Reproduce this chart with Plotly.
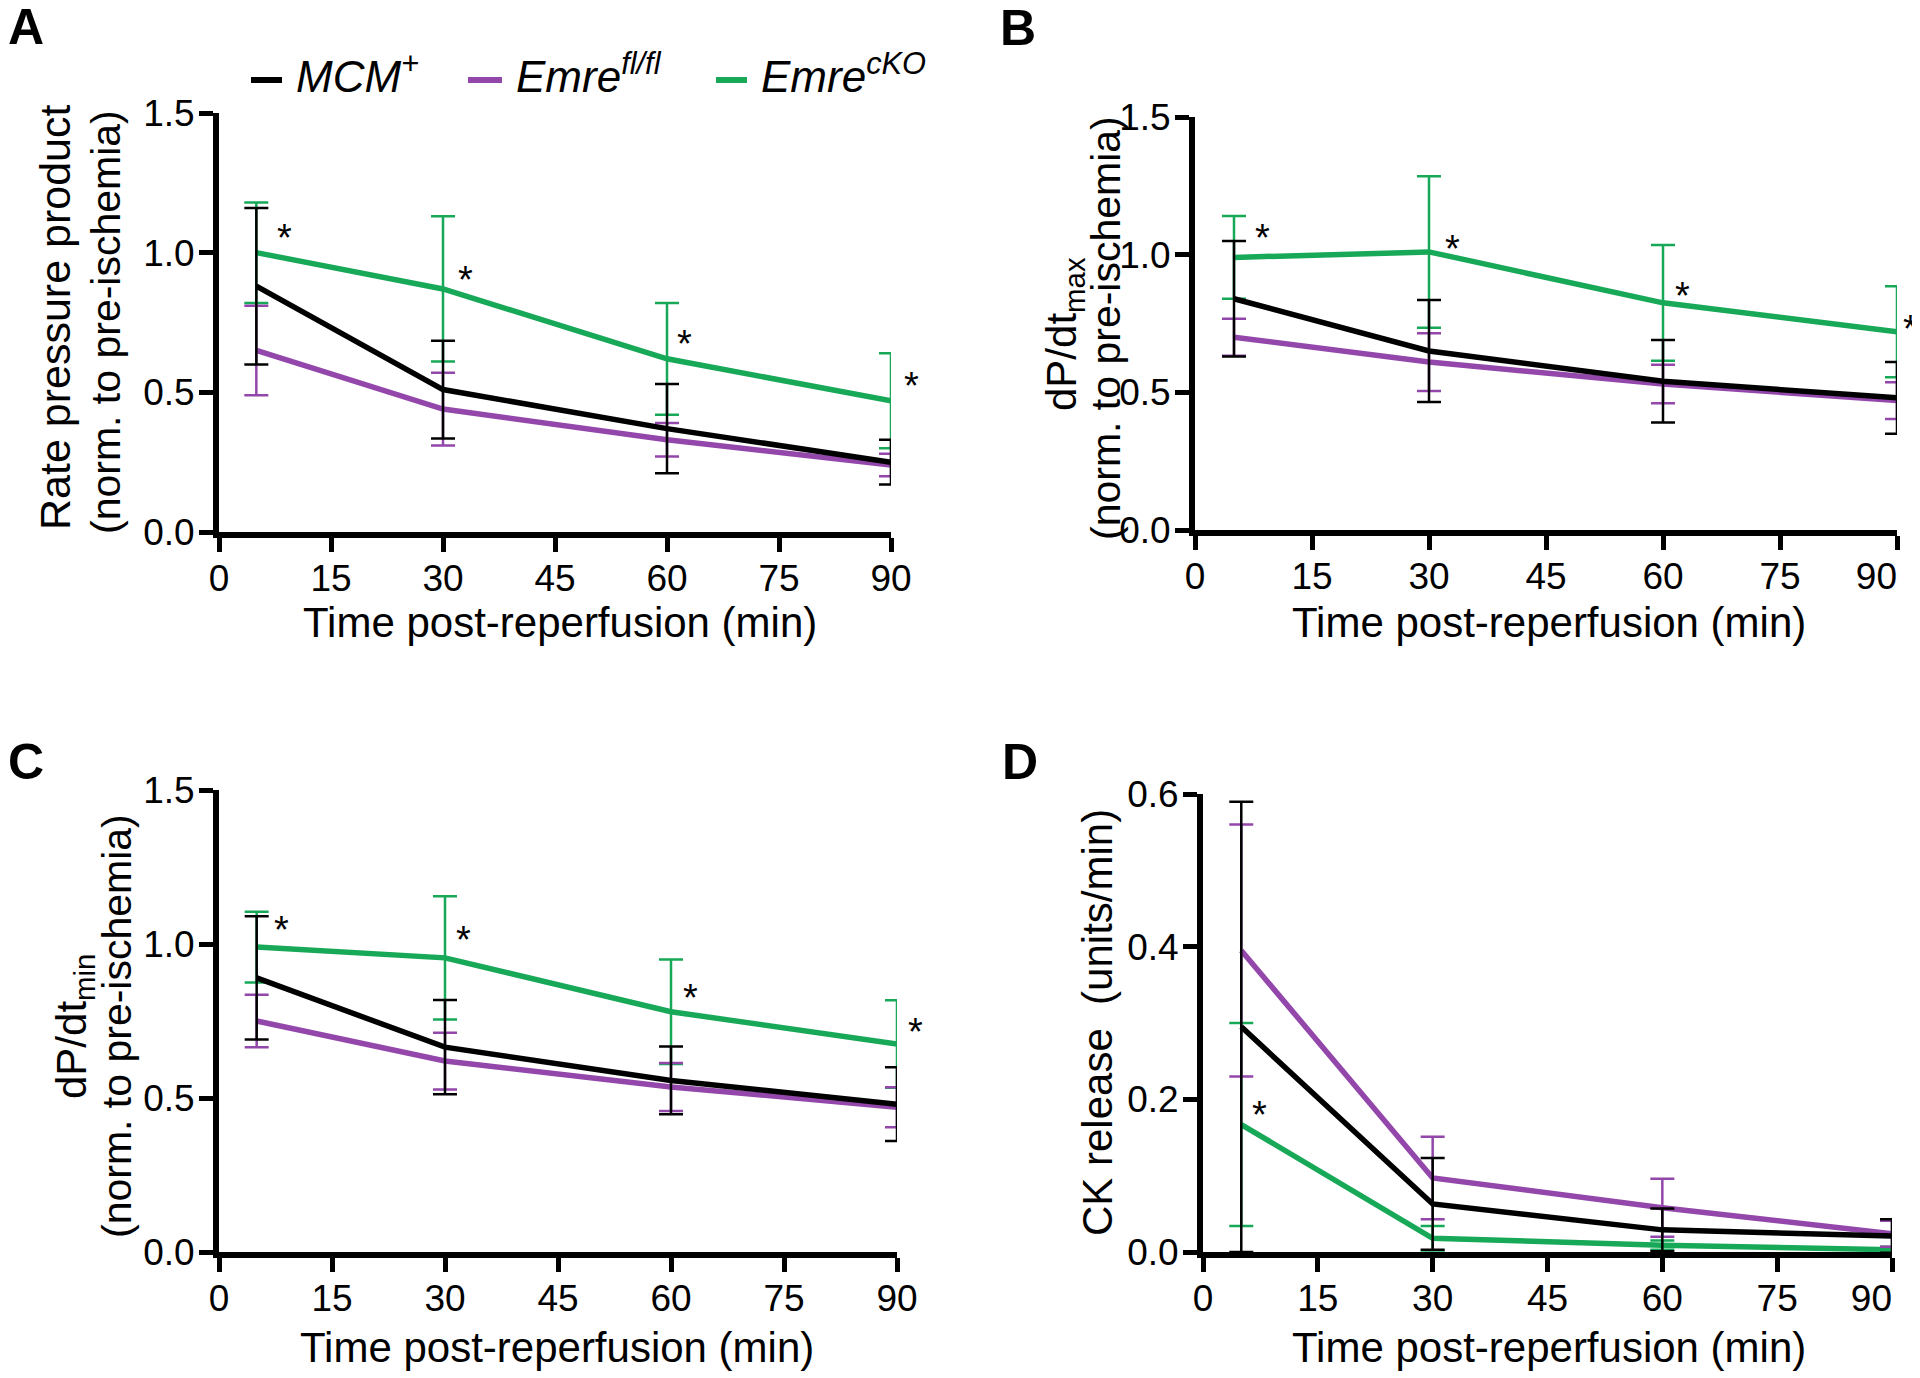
import plotly.graph_objects as go

W, H = 1920, 1378
OFF = 8  # page body margin around the plot div
FONT = "Liberation Sans, Arial, Helvetica, sans-serif"

BLACK = "#000000"
PURPLE = "#9447ab"
GREEN = "#17a858"

time_min = [5, 30, 60, 90]
x_ticks = [0, 15, 30, 45, 60, 75, 90]
x_ticktext = ["0", "15", "30", "45", "60", "75", "90"]

# A - rate pressure product
rpp_mcm = [0.88, 0.51, 0.37, 0.25]
rpp_mcm_sd = [0.28, 0.175, 0.16, 0.08]
rpp_fl = [0.65, 0.44, 0.33, 0.24]
rpp_fl_sd = [0.16, 0.13, 0.06, 0.04]
rpp_cko = [1.00, 0.87, 0.62, 0.47]
rpp_cko_sd = [0.18, 0.26, 0.20, 0.17]
rpp_star_x = [5, 30, 60, 90]
rpp_star_y = [1.08, 0.93, 0.70, 0.55]

# B - dP/dt max
max_mcm = [0.84, 0.65, 0.54, 0.48]
max_mcm_sd = [0.21, 0.185, 0.15, 0.13]
max_fl = [0.70, 0.61, 0.53, 0.47]
max_fl_sd = [0.067, 0.105, 0.07, 0.067]
max_cko = [0.99, 1.01, 0.825, 0.72]
max_cko_sd = [0.15, 0.275, 0.21, 0.165]
max_star_x = [5, 30, 60, 90]
max_star_y = [1.09, 1.05, 0.88, 0.76]

# C - dP/dt min
min_mcm = [0.89, 0.665, 0.557, 0.48]
min_mcm_sd = [0.2, 0.153, 0.11, 0.12]
min_fl = [0.75, 0.62, 0.536, 0.47]
min_fl_sd = [0.085, 0.092, 0.078, 0.065]
min_cko = [0.99, 0.955, 0.78, 0.675]
min_cko_sd = [0.115, 0.2, 0.17, 0.142]
min_star_x = [5, 30, 60, 90]
min_star_y = [1.07, 1.04, 0.85, 0.74]

# D - CK release
ck_mcm = [0.295, 0.063, 0.029, 0.021]
ck_mcm_sd = [0.295, 0.06, 0.028, 0.022]
ck_fl = [0.395, 0.097, 0.058, 0.024]
ck_fl_sd = [0.165, 0.054, 0.038, 0.017]
ck_cko = [0.167, 0.018, 0.009, 0.003]
ck_cko_sd = [0.133, 0.016, 0.006, 0.004]
ck_star_x = [5]
ck_star_y = [0.19]

group_names = ["<i>MCM<sup>+</sup></i>", "<i>Emre<sup>fl/fl</sup></i>", "<i>Emre<sup>cKO</sup></i>"]


def px_x(v):
    return (v - OFF) / W


def px_y(v):
    return 1 - (v - OFF) / H


fig = go.Figure()

# last item: horizontal pixel nudge of each star from its point
panels = [
    ("x", "y", [(rpp_cko, rpp_cko_sd, GREEN), (rpp_fl, rpp_fl_sd, PURPLE), (rpp_mcm, rpp_mcm_sd, BLACK)],
     rpp_star_x, rpp_star_y, [28, 22, 17, 20]),
    ("x2", "y2", [(max_cko, max_cko_sd, GREEN), (max_fl, max_fl_sd, PURPLE), (max_mcm, max_mcm_sd, BLACK)],
     max_star_x, max_star_y, [28, 23, 19, 13]),
    ("x3", "y3", [(min_cko, min_cko_sd, GREEN), (min_fl, min_fl_sd, PURPLE), (min_mcm, min_mcm_sd, BLACK)],
     min_star_x, min_star_y, [25, 18, 19, 18]),
    ("x4", "y4", [(ck_cko, ck_cko_sd, GREEN), (ck_fl, ck_fl_sd, PURPLE), (ck_mcm, ck_mcm_sd, BLACK)],
     ck_star_x, ck_star_y, [18]),
]

annotations = []

for xa, ya, series, sx, sy, shifts in panels:
    for vals, sd, col in series:
        fig.add_trace(go.Scatter(
            x=time_min, y=vals, xaxis=xa, yaxis=ya, mode="lines",
            line=dict(color=col, width=5.5),
            error_y=dict(type="data", array=sd, visible=True, color=col,
                         thickness=2.5, width=12),
            showlegend=False, hoverinfo="skip"))
    # significance stars next to the Emre cKO points
    for x, y, dx in zip(sx, sy, shifts):
        annotations.append(dict(text="*", x=x, y=y, xref=xa, yref=ya, showarrow=False,
                                xshift=dx, yshift=-8, xanchor="center", yanchor="middle",
                                font=dict(family=FONT, size=38, color="black")))

axis_style = dict(showline=True, linecolor="black", linewidth=6, ticks="outside",
                  ticklen=14, tickwidth=5, tickcolor="black", showgrid=False,
                  zeroline=False, automargin=False, ticklabeloverflow="allow",
                  tickfont=dict(family=FONT, size=37, color="black"))

# pixel boxes: left, right, top, bottom
boxes = [(219, 891, 113, 532), (1195, 1897, 117, 530),
         (219, 897, 790, 1252), (1203, 1892, 794, 1252)]

layout = dict(width=W, height=H, margin=dict(l=0, r=0, t=0, b=0, autoexpand=False),
              plot_bgcolor="white", paper_bgcolor="white", showlegend=False)
for i, (l, r, t, b) in enumerate(boxes):
    sfx = "" if i == 0 else str(i + 1)
    ttext = list(x_ticktext)
    if i in (1, 3):
        # right-hand panels: last label pulled in from the page edge
        ttext[-1] = ttext[-1] + "\u00a0" * 4
    layout["xaxis" + sfx] = dict(axis_style, domain=[px_x(l), px_x(r)], range=[0, 90],
                                 tickvals=x_ticks, ticktext=ttext, anchor="y" + sfx,
                                 ticklabelstandoff=-5)
    if i == 3:
        yt = [0, 0.2, 0.4, 0.6]
        yr = [0, 0.6]
    else:
        yt = [0, 0.5, 1.0, 1.5]
        yr = [0, 1.5]
    layout["yaxis" + sfx] = dict(axis_style, domain=[px_y(b), px_y(t)], range=yr,
                                 tickvals=yt, tickformat=".1f", anchor="x" + sfx,
                                 ticklabelstandoff=-3)
fig.update_layout(**layout)


def add_text(text, x, y, size, angle=0, bold=False, xanchor="center"):
    if bold:
        text = "<b>" + text + "</b>"
    annotations.append(dict(text=text, x=px_x(x), y=px_y(y), xref="paper", yref="paper",
                            showarrow=False, textangle=angle, xanchor=xanchor,
                            yanchor="middle", font=dict(family=FONT, size=size, color="black")))


# panel letters
add_text("A", 26, 27, 50, bold=True)
add_text("B", 1018, 28, 50, bold=True)
add_text("C", 26, 762, 50, bold=True)
add_text("D", 1020, 762, 50, bold=True)

# axis titles
xtitle = "Time post-reperfusion (min)"
add_text(xtitle, 560, 622, 42)
add_text(xtitle, 1549, 622, 42)
add_text(xtitle, 557, 1347, 42)
add_text(xtitle, 1549, 1347, 42)

norm = "(norm. to pre-ischemia)"
add_text("Rate pressure product", 55, 318, 43, angle=-90)
add_text(norm, 106, 322, 41, angle=-90)
add_text("dP/dt<sub>max</sub>", 1064, 334, 42, angle=-90)
add_text(norm, 1106, 328, 41, angle=-90)
add_text("dP/dt<sub>min</sub>", 74, 1027, 42, angle=-90)
add_text(norm, 117, 1026, 41, angle=-90)
add_text("CK release&nbsp; (units/min)", 1097, 1023, 42, angle=-90)

# legend
legend_y = 80
legend_items = [(251, 282, 294, BLACK), (468, 502, 514, PURPLE), (716, 747, 759, GREEN)]
shapes = []
for name, (x0, x1, tx, col) in zip(group_names, legend_items):
    shapes.append(dict(type="line", xref="paper", yref="paper", x0=px_x(x0), x1=px_x(x1),
                       y0=px_y(legend_y), y1=px_y(legend_y), line=dict(color=col, width=6)))
    add_text(name, tx, legend_y - 6, 44, xanchor="left")

fig.update_layout(annotations=annotations, shapes=shapes)

fig.write_html("out.html")
